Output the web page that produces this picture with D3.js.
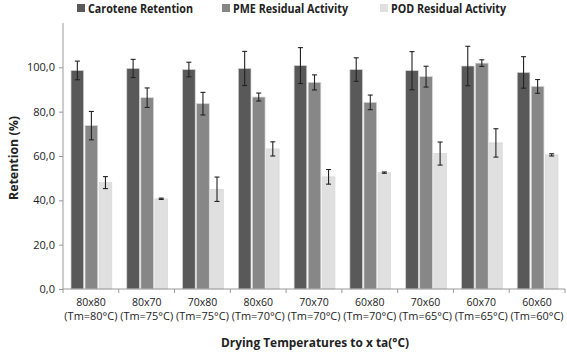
<!DOCTYPE html>
<html>
<head>
<meta charset="utf-8">
<script src="https://cdn.jsdelivr.net/npm/d3@7"></script>
<style>
  body { margin: 0; background: #fff; }
  text { font-family: "Open Sans", "Noto Sans", sans-serif; }
</style>
</head>
<body>
<div id="chart"></div>
<script>
// data
const categories = ["80x80", "80x70", "70x80", "80x60", "70x70", "60x80", "70x60", "60x70", "60x60"];
const tmLabels = ["(Tm=80°C)", "(Tm=75°C)", "(Tm=75°C)", "(Tm=70°C)", "(Tm=70°C)", "(Tm=70°C)", "(Tm=65°C)", "(Tm=65°C)", "(Tm=60°C)"];
const seriesNames = ["Carotene Retention", "PME Residual Activity", "POD Residual Activity"];
const carotene = [98.6, 99.5, 99.0, 99.5, 100.8, 99.0, 98.5, 100.6, 97.7];
const caroteneErr = [4.2, 4.1, 3.3, 7.7, 8.1, 5.3, 8.6, 8.9, 7.1];
const pme = [73.7, 86.3, 83.6, 86.6, 93.2, 84.2, 95.8, 101.9, 91.4];
const pmeErr = [6.4, 4.4, 5.1, 1.8, 3.4, 3.3, 4.7, 1.5, 3.1];
const pod = [48.0, 40.7, 45.0, 63.2, 50.6, 52.5, 61.1, 65.9, 60.5];
const podErr = [2.7, 0.3, 5.5, 3.2, 3.3, 0.3, 5.2, 6.4, 0.5];
const yTicks = [0, 20, 40, 60, 80, 100];

const WIDTH = 567, HEIGHT = 356;
const margin = { top: 23, right: 2, bottom: 67, left: 63 };
const width = WIDTH - margin.left - margin.right;
const height = HEIGHT - margin.top - margin.bottom;

const svg = d3.select("#chart").append("svg")
  .attr("width", WIDTH)
  .attr("height", HEIGHT);

const g = svg.append("g").attr("transform", `translate(${margin.left},${margin.top})`);

// scales
const x = d3.scaleBand().domain(categories).range([0, width]).paddingInner(0).paddingOuter(0);
const inner = d3.scaleBand().domain(seriesNames).range([8, x.bandwidth() - 7]).paddingInner(0.1);
const y = d3.scaleLinear().domain([0, 120]).range([height, 0]);
const color = d3.scaleOrdinal().domain(seriesNames).range(["#595959", "#878787", "#e0e0e0"]);

const rows = categories.map((c, i) => ({
  cat: c,
  values: [
    { key: seriesNames[0], v: carotene[i], e: caroteneErr[i] },
    { key: seriesNames[1], v: pme[i], e: pmeErr[i] },
    { key: seriesNames[2], v: pod[i], e: podErr[i] }
  ]
}));

// bars
const groups = g.selectAll(".cat").data(rows).enter().append("g")
  .attr("transform", d => `translate(${x(d.cat)},0)`);

groups.selectAll("rect").data(d => d.values).enter().append("rect")
  .attr("x", d => inner(d.key))
  .attr("width", inner.bandwidth())
  .attr("y", d => y(d.v))
  .attr("height", d => height - y(d.v))
  .attr("fill", d => color(d.key))
  .attr("stroke", "#d6d6d6")
  .attr("stroke-width", 0.7);

// error bars
const eb = groups.selectAll(".err").data(d => d.values).enter().append("g").attr("class", "err")
  .attr("stroke", "#222").attr("stroke-width", 1.1);
const cx = d => inner(d.key) + inner.bandwidth() / 2;
eb.append("line")
  .attr("x1", cx).attr("x2", cx)
  .attr("y1", d => y(d.v + d.e))
  .attr("y2", d => y(d.v - d.e));
eb.append("line")
  .attr("x1", d => cx(d) - 2.5).attr("x2", d => cx(d) + 2.5)
  .attr("y1", d => y(d.v + d.e))
  .attr("y2", d => y(d.v + d.e));
eb.append("line")
  .attr("x1", d => cx(d) - 2.5).attr("x2", d => cx(d) + 2.5)
  .attr("y1", d => y(d.v - d.e))
  .attr("y2", d => y(d.v - d.e));

// y axis
const gy = g.append("g").call(
  d3.axisLeft(y).tickValues(yTicks).tickSize(4).tickFormat(d => d3.format(".1f")(d).replace(".", ","))
);
gy.select(".domain").attr("stroke", "#999").attr("d", `M0,${height}V0`);
gy.selectAll(".tick line").attr("stroke", "#999");
gy.selectAll(".tick text").attr("x", -8).attr("font-size", 11).attr("fill", "#222")
  .style("font-family", "'Open Sans', sans-serif");

// x axis
const gx = g.append("g").attr("transform", `translate(0,${height})`);
gx.append("line").attr("x1", 0).attr("x2", width).attr("stroke", "#999");
gx.selectAll(".tk").data(d3.range(categories.length + 1)).enter().append("line")
  .attr("x1", i => i * x.step()).attr("x2", i => i * x.step())
  .attr("y1", 0).attr("y2", 4).attr("stroke", "#999");
gx.selectAll(".lab1").data(categories).enter().append("text")
  .attr("x", d => x(d) + x.bandwidth() / 2)
  .attr("y", 17)
  .attr("text-anchor", "middle")
  .attr("font-size", 10.5).attr("fill", "#222")
  .text(d => d);
gx.selectAll(".lab2").data(tmLabels).enter().append("text")
  .attr("x", (d, i) => x(categories[i]) + x.bandwidth() / 2)
  .attr("y", 31)
  .attr("text-anchor", "middle")
  .attr("font-size", 10).attr("fill", "#222")
  .attr("textLength", 53).attr("lengthAdjust", "spacingAndGlyphs")
  .text(d => d);

// axis titles
svg.append("text")
  .attr("x", 315).attr("y", 347)
  .attr("text-anchor", "middle")
  .attr("font-size", 12.5).attr("font-weight", "bold").attr("fill", "#222")
  .attr("textLength", 188).attr("lengthAdjust", "spacingAndGlyphs")
  .text("Drying Temperatures to x ta(°C)");
svg.append("text")
  .attr("transform", "translate(18,158) rotate(-90)")
  .attr("text-anchor", "middle")
  .attr("font-size", 13).attr("font-weight", "bold").attr("fill", "#222")
  .attr("textLength", 84).attr("lengthAdjust", "spacingAndGlyphs")
  .text("Retention (%)");

// legend
const legendX = [77, 222, 380];
const legendLen = [105, 115, 115];
const legend = svg.selectAll(".leg").data(seriesNames).enter().append("g")
  .attr("transform", (d, i) => `translate(${legendX[i]},0)`);
legend.append("rect").attr("width", 8).attr("height", 8).attr("y", 4).attr("fill", d => color(d));
legend.append("text").attr("x", 11).attr("y", 12.5)
  .attr("font-size", 12).attr("font-weight", "bold").attr("fill", "#222")
  .attr("textLength", (d, i) => legendLen[i]).attr("lengthAdjust", "spacingAndGlyphs")
  .text(d => d);
</script>
</body>
</html>
